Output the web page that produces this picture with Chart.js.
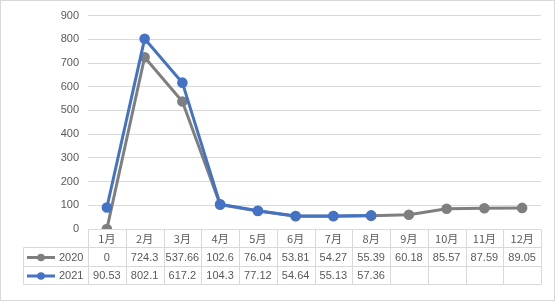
<!DOCTYPE html>
<html>
<head>
  <meta charset="utf-8">
  <title>2020-2021 月度折线图</title>
  <script src="https://cdn.jsdelivr.net/npm/chart.js@4"></script>
  <style>
    body { margin: 0; background: #fff; }
  </style>
</head>
<body>
  <canvas id="lineChart" width="556" height="302"></canvas>

  <script>
    // dados
    const meses = ['1月', '2月', '3月', '4月', '5月', '6月', '7月', '8月', '9月', '10月', '11月', '12月'];
    const nomes = ['2020', '2021'];
    const valores2020 = [0, 724.3, 537.66, 102.6, 76.04, 53.81, 54.27, 55.39, 60.18, 85.57, 87.59, 89.05];
    const valores2021 = [90.53, 802.1, 617.2, 104.3, 77.12, 54.64, 55.13, 57.36, null, null, null, null];
    const cores = ['#7f7f7f', '#4472c4'];

    const corTexto = '#595959';
    const corLinha = '#d9d9d9';
    const fonteNum = '11px "Liberation Sans", Arial, sans-serif';
    const fonteCJK = '11px "Noto Sans CJK SC", "Liberation Sans", sans-serif';

    // tabela de dados abaixo do gráfico (estilo Excel)
    const tabelaPlugin = {
      id: 'tabela',
      afterDraw(chart) {
        const c = chart.ctx;
        const x = chart.scales.x;
        const area = chart.chartArea;
        const larg = (area.right - area.left) / meses.length;
        const y0 = Math.round(area.bottom) + 0.5;
        const linhas = [y0, y0 + 18, y0 + 37, y0 + 55];
        const esq = 23.5;

        c.save();
        c.strokeStyle = corLinha;
        c.lineWidth = 1;
        c.beginPath();
        // linhas horizontais
        c.moveTo(area.left, linhas[0]); c.lineTo(area.right, linhas[0]);
        for (let i = 1; i < 4; i++) {
          c.moveTo(esq, linhas[i]); c.lineTo(area.right, linhas[i]);
        }
        // linhas verticais
        for (let i = 0; i <= meses.length; i++) {
          const xv = Math.round(area.left + i * larg) + 0.5;
          c.moveTo(xv, linhas[0]); c.lineTo(xv, linhas[3]);
        }
        c.moveTo(esq, linhas[1]); c.lineTo(esq, linhas[3]);
        c.stroke();

        // borda externa
        c.strokeRect(0.5, 0.5, 554, 300);

        c.fillStyle = corTexto;
        c.textAlign = 'center';
        c.textBaseline = 'middle';
        c.font = fonteCJK;
        meses.forEach((m, i) => {
          c.fillText(m, x.getPixelForValue(i), (linhas[0] + linhas[1]) / 2);
        });

        c.font = fonteNum;
        [valores2020, valores2021].forEach((serie, s) => {
          const yc = (linhas[s + 1] + linhas[s + 2]) / 2 + 0.5;
          serie.forEach((v, i) => {
            if (v === null) return;
            c.fillText(String(v), x.getPixelForValue(i), yc);
          });
          // legenda
          c.strokeStyle = cores[s];
          c.lineWidth = 3;
          c.beginPath();
          c.moveTo(27, yc); c.lineTo(55, yc);
          c.stroke();
          c.fillStyle = cores[s];
          c.beginPath();
          c.arc(41, yc, 3.8, 0, Math.PI * 2);
          c.fill();
          c.fillStyle = corTexto;
          c.textAlign = 'left';
          c.fillText(nomes[s], 59, yc);
          c.textAlign = 'center';
        });
        c.restore();
      }
    };

    const ctx = document.getElementById('lineChart').getContext('2d');
    const grafico = new Chart(ctx, {
      type: 'line',
      data: {
        labels: meses,
        datasets: [
          {
            label: nomes[0],
            data: valores2020,
            borderColor: cores[0],
            backgroundColor: cores[0],
            borderWidth: 3,
            pointRadius: 3.8,
            pointHoverRadius: 3.8,
            order: 1,
          },
          {
            label: nomes[1],
            data: valores2021,
            borderColor: cores[1],
            backgroundColor: cores[1],
            borderWidth: 3,
            pointRadius: 3.8,
            pointHoverRadius: 3.8,
            order: 0,
          },
        ],
      },
      options: {
        responsive: false,
        animation: false,
        devicePixelRatio: 1,
        layout: { padding: { left: 0, right: 15, top: 15, bottom: 73 } },
        plugins: {
          legend: { display: false },
          tooltip: { enabled: false },
        },
        scales: {
          x: {
            display: false,
            offset: true,
          },
          y: {
            min: 0,
            max: 900,
            afterFit(scale) { scale.width = 88; },
            ticks: {
              stepSize: 100,
              color: corTexto,
              font: { family: '"Liberation Sans", Arial, sans-serif', size: 11 },
              padding: 9,
            },
            grid: { color: corLinha, drawTicks: false },
            border: { display: false },
          },
        },
      },
      plugins: [tabelaPlugin],
    });
  </script>
</body>
</html>
